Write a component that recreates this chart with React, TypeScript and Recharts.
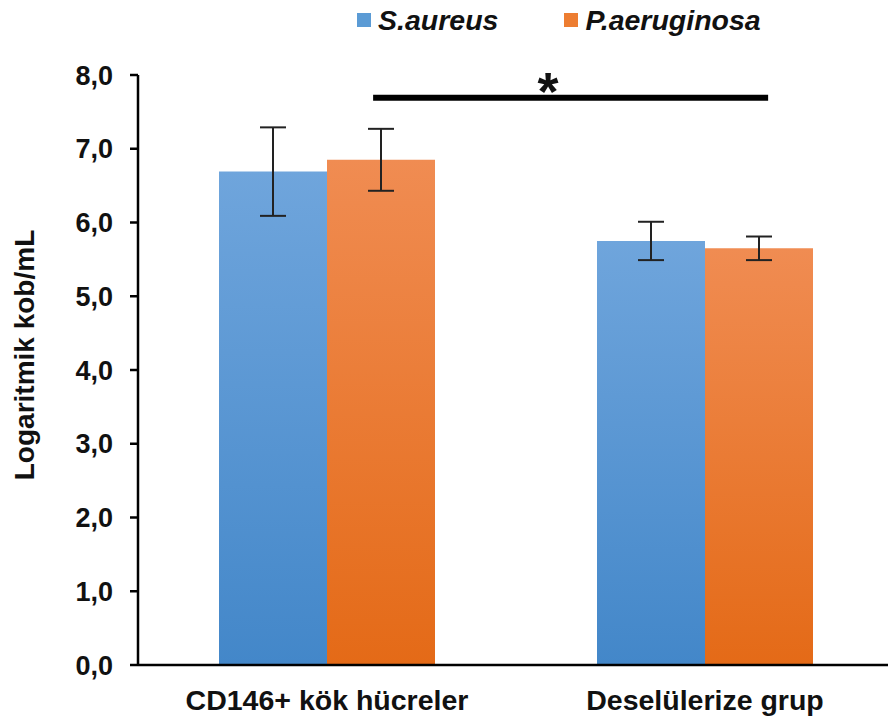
import React from 'react';
import { BarChart, Bar, XAxis, YAxis, ErrorBar, ReferenceLine, ReferenceDot } from 'recharts';

const categories = ['CD146+ kök hücreler', 'Deselülerize grup'];
const saureus = [6.69, 5.75];
const saureusErr = [0.6, 0.26];
const paeruginosa = [6.85, 5.65];
const paeruginosaErr = [0.42, 0.16];
const yTicks = [0, 1, 2, 3, 4, 5, 6, 7, 8];
const seriesNames = ['S.aureus', 'P.aeruginosa'];
const seriesColors = ['#5b9bd5', '#ed7d31'];

// significance annotation (data coordinates of a hidden numeric axis spanning 0..1 over the plot)
const sigStartX = 0.311;
const sigEndX = 0.8335;
const sigY = 7.69;
const starX = 0.5425;
const starY = 7.95;

const data = categories.map((c, i) => ({
  name: c,
  sa: saureus[i],
  saErr: saureusErr[i],
  pa: paeruginosa[i],
  paErr: paeruginosaErr[i],
}));

const FONT = 'Liberation Sans, Arial, sans-serif';

const StarShape = (props: any) => {
  const { cx, cy } = props;
  return (
    <text x={cx} y={cy + 31} textAnchor="middle" fontFamily={FONT} fontWeight="bold" fontSize={54} fill="#111">
      *
    </text>
  );
};

const YLabel = (props: any) => {
  const vb = props.viewBox || { x: 0, y: 75, width: 138, height: 590 };
  const x = vb.x + 24;
  const y = vb.y + vb.height / 2 - 15;
  return (
    <text
      x={x}
      y={y}
      transform={`rotate(-90, ${x}, ${y})`}
      textAnchor="middle"
      dominantBaseline="central"
      fontFamily={FONT}
      fontWeight="bold"
      fontSize={28}
      fill="#111"
    >
      Logaritmik kob/mL
    </text>
  );
};

export default function App() {
  return (
    <div style={{ position: 'absolute', left: 0, top: 0, width: 888, height: 719, background: '#fff' }}>
      <div
        style={{
          position: 'absolute',
          left: 357,
          top: 1,
          height: 38,
          display: 'flex',
          alignItems: 'center',
          fontFamily: FONT,
          fontWeight: 'bold',
          fontStyle: 'italic',
          fontSize: 28.5,
          color: '#111',
          whiteSpace: 'nowrap',
        }}
      >
        {seriesNames.map((n, i) => (
          <div key={n} style={{ display: 'flex', alignItems: 'center', marginRight: i === 0 ? 66 : 0 }}>
            <span style={{ display: 'inline-block', width: 14, height: 14, background: seriesColors[i], marginRight: 7 }} />
            <span>{n}</span>
          </div>
        ))}
      </div>
      <BarChart
        width={888}
        height={719}
        data={data}
        margin={{ top: 75, right: -6, bottom: 0, left: 0 }}
        barGap={0}
        barSize={108}
      >
        <defs>
          <linearGradient id="gBlue" x1="0" y1="0" x2="0" y2="1">
            <stop offset="0%" stopColor="#6fa5dc" />
            <stop offset="100%" stopColor="#4387c9" />
          </linearGradient>
          <linearGradient id="gOrange" x1="0" y1="0" x2="0" y2="1">
            <stop offset="0%" stopColor="#f08c52" />
            <stop offset="100%" stopColor="#e46a17" />
          </linearGradient>
        </defs>
        <XAxis
          dataKey="name"
          height={54}
          tickSize={0}
          tickMargin={25}
          axisLine={{ stroke: '#000', strokeWidth: 2.5 }}
          tick={{ fontFamily: FONT, fontWeight: 'bold', fontSize: 28.5, fill: '#111' }}
          interval={0}
        />
        <XAxis xAxisId="sig" type="number" domain={[0, 1]} hide allowDataOverflow />
        <YAxis
          width={138}
          domain={[0, 8]}
          ticks={yTicks}
          interval={0}
          tickSize={8}
          tickMargin={17}
          axisLine={{ stroke: '#000', strokeWidth: 2.5 }}
          tickLine={{ stroke: '#000', strokeWidth: 2.5 }}
          tick={{ fontFamily: FONT, fontWeight: 'bold', fontSize: 27, fill: '#111' }}
          tickFormatter={(v: number) => v.toFixed(1).replace('.', ',')}
          label={<YLabel />}
        />
        <Bar dataKey="sa" name={seriesNames[0]} fill="url(#gBlue)" isAnimationActive={false}>
          <ErrorBar dataKey="saErr" width={13} stroke="#222" strokeWidth={2} isAnimationActive={false} />
        </Bar>
        <Bar dataKey="pa" name={seriesNames[1]} fill="url(#gOrange)" isAnimationActive={false}>
          <ErrorBar dataKey="paErr" width={13} stroke="#222" strokeWidth={2} isAnimationActive={false} />
        </Bar>
        <ReferenceLine
          xAxisId="sig"
          segment={[
            { x: sigStartX, y: sigY },
            { x: sigEndX, y: sigY },
          ]}
          stroke="#000"
          strokeWidth={6}
          ifOverflow="visible"
        />
        <ReferenceDot xAxisId="sig" x={starX} y={starY} r={0} shape={StarShape} ifOverflow="visible" />
      </BarChart>
    </div>
  );
}
